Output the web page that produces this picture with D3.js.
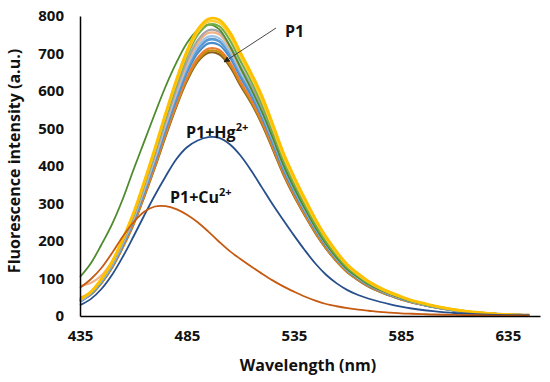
<!DOCTYPE html>
<html>
<head>
<meta charset="utf-8">
<script src="https://cdn.jsdelivr.net/npm/d3@7"></script>
<style>
  html, body { margin: 0; padding: 0; background: #fff; }
  svg { display: block; font-family: "Open Sans", "Liberation Sans", sans-serif; }
</style>
</head>
<body>
<svg id="chart" width="550" height="382"></svg>
<script>
// ---- data ----
const wavelengths = [435,440,445,450,455,460,465,470,475,480,485,490,495,500,505,510,515,520,525,530,535,540,545,550,555,560,565,570,575,580,585,590,595,600,610,620,630,645];
const xTicks = [435, 485, 535, 585, 635];
const yTicks = [0, 100, 200, 300, 400, 500, 600, 700, 800];

const seriesNames = ["P1", "P1+M a", "P1+M b", "P1+M c", "P1+M d", "P1+M e", "P1+M f", "P1+M g", "P1+M h", "P1+M i", "P1+M j", "P1+M k", "P1+Hg2+", "P1+Cu2+"];
const seriesColors = ["#8a5a1c", "#bf9000", "#ed7d31", "#4a8bc9", "#5b9bd5", "#9dc3e6", "#f4b183", "#a5a5a5", "#4e8a2e", "#70ad47", "#ffcd33", "#ffc000", "#264f8c", "#c55a11"];

const sP1 = [40,57,88,129,183,244,318,396,479,558,627,678,702, 698,666,615,568,512,446,378,320,269,221,180,145,116,96,78,65,54,44,36,30,24,15,8,5,2];
const sK  = [42,58,88,130,184,246,320,399,483,561,631,682,707, 704,671,620,572,516,450,381,323,271,223,181,146,117,97,79,66,55,45,37,30,24,15,8,5,2];
const sJ  = [48,62,91,131,185,248,323,402,487,566,636,688,713, 710,677,625,577,520,454,384,326,273,225,183,147,118,98,80,66,55,45,37,30,24,15,8,5,2];
const sI  = [38,59,91,134,189,253,329,410,496,577,649,701,727, 723,690,637,588,530,462,391,332,279,230,187,151,121,100,82,68,56,46,38,31,25,15,9,5,2];
const sH  = [39,60,92,135,191,256,334,416,503,585,658,711,737, 733,699,645,596,537,468,397,337,283,233,190,153,123,102,83,69,57,47,38,31,25,15,9,5,2];
const sG  = [40,61,93,137,194,259,337,420,509,592,665,719,745, 741,706,652,602,542,473,401,340,285,235,191,154,123,102,84,70,58,48,39,32,26,16,9,5,2];
const sF  = [80,88,108,145,198,263,342,426,515,600,674,728,755, 751,715,660,610,549,479,406,345,289,238,194,156,125,104,85,70,58,48,39,32,26,16,9,5,2];
const sE  = [42,62,95,140,198,265,345,430,520,605,680,735,762, 758,722,666,615,554,483,410,348,292,240,195,158,126,105,85,71,59,49,40,33,26,16,9,5,2];
const sD  = [104,140,190,245,312,390,465,540,612,675,728,762,777, 765,720,662,605,545,476,403,342,287,236,192,155,124,103,84,70,58,48,39,32,26,16,9,5,2];
const sC  = [45,63,97,143,202,270,352,439,530,617,694,750,777, 773,736,680,627,565,493,418,355,298,245,199,161,129,107,87,73,60,50,40,33,27,17,9,5,2];
const sB  = [44,64,98,144,204,273,355,443,536,623,700,757,785, 782,748,693,638,576,503,427,364,307,254,207,167,134,110,90,74,61,51,41,34,27,17,9,5,2];
const sA  = [45,64,99,145,206,275,358,447,540,629,707,764,792, 790,757,702,648,587,513,436,372,314,259,211,171,137,113,92,76,63,52,42,35,28,17,10,5,2];
const sHg = [29,45,72,110,158,212,268,322,372,418,450,468,477,475,458,428,388,343,298,256,215,176,140,110,87,69,56,46,38,31,25,20,16,13,8,5,3,2];
const sCu = [75,98,128,168,212,250,278,292,293,285,270,250,225,198,173,152,132,113,95,79,65,52,41,32,26,21,17,14,11,9,7,6,5,4,3,2,1,1];

const seriesValues = [sP1, sK, sJ, sI, sH, sG, sF, sE, sD, sC, sB, sA, sHg, sCu];
const seriesWidths = [2.2, 2.2, 2.2, 2.2, 2.8, 2.2, 2.2, 2.2, 1.8, 2.2, 2.4, 2.8, 1.8, 1.8];

// ---- layout ----
const svg = d3.select("#chart");
const x = d3.scaleLinear().domain([435, 650]).range([80, 540]);
const y = d3.scaleLinear().domain([0, 800]).range([316, 16]);

const line = d3.line()
  .x(d => x(d[0]))
  .y(d => y(d[1]))
  .curve(d3.curveCatmullRom.alpha(0.5));

// series
seriesValues.forEach((vals, i) => {
  svg.append("path")
    .datum(wavelengths.map((w, j) => [w, vals[j]]))
    .attr("fill", "none")
    .attr("stroke", seriesColors[i])
    .attr("stroke-width", seriesWidths[i])
    .attr("stroke-linejoin", "round")
    .attr("d", line);
});

// axes
const xAxis = d3.axisBottom(x).tickValues(xTicks).tickSize(0).tickPadding(14);
const gx = svg.append("g").attr("transform", "translate(0,316)").call(xAxis);
gx.select(".domain").attr("stroke", "#000").attr("stroke-width", 1.5);
gx.selectAll("text").attr("font-size", 15).attr("font-weight", "bold").attr("fill", "#111")
  .attr("font-family", "'Open Sans', sans-serif");

const yAxis = d3.axisLeft(y).tickValues(yTicks).tickSize(0).tickPadding(16);
const gy = svg.append("g").attr("transform", "translate(80,0)").call(yAxis);
gy.select(".domain").attr("stroke", "#000").attr("stroke-width", 1.5);
gy.selectAll("text").attr("font-size", 15).attr("font-weight", "bold").attr("fill", "#111")
  .attr("font-family", "'Open Sans', sans-serif");

// axis titles
svg.append("text")
  .attr("x", 308).attr("y", 371)
  .attr("text-anchor", "middle")
  .attr("font-size", 16).attr("font-weight", "bold").attr("fill", "#111")
  .text("Wavelength (nm)");

svg.append("text")
  .attr("transform", "translate(20,161) rotate(-90)")
  .attr("text-anchor", "middle")
  .attr("font-size", 16).attr("font-weight", "bold").attr("fill", "#111")
  .text("Fluorescence intensity (a.u.)");

// annotations
const defs = svg.append("defs");
defs.append("marker")
  .attr("id", "arr").attr("viewBox", "0 0 10 10")
  .attr("refX", 9).attr("refY", 5)
  .attr("markerWidth", 7).attr("markerHeight", 7)
  .attr("orient", "auto")
  .append("path").attr("d", "M0,0 L10,5 L0,10 z").attr("fill", "#222");

svg.append("line")
  .attr("x1", 276).attr("y1", 28).attr("x2", 224).attr("y2", 62)
  .attr("stroke", "#333").attr("stroke-width", 0.9)
  .attr("marker-end", "url(#arr)");

svg.append("text")
  .attr("x", 285).attr("y", 37)
  .attr("font-size", 16).attr("font-weight", "bold").attr("fill", "#111")
  .text("P1");

const hg = svg.append("text")
  .attr("x", 186).attr("y", 138)
  .attr("font-size", 16).attr("font-weight", "bold").attr("fill", "#111");
hg.append("tspan").text("P1+Hg");
hg.append("tspan").attr("font-size", 11).attr("dy", -7).text("2+");

const cu = svg.append("text")
  .attr("x", 170).attr("y", 203)
  .attr("font-size", 16).attr("font-weight", "bold").attr("fill", "#111");
cu.append("tspan").text("P1+Cu");
cu.append("tspan").attr("font-size", 11).attr("dy", -7).text("2+");
</script>
</body>
</html>
